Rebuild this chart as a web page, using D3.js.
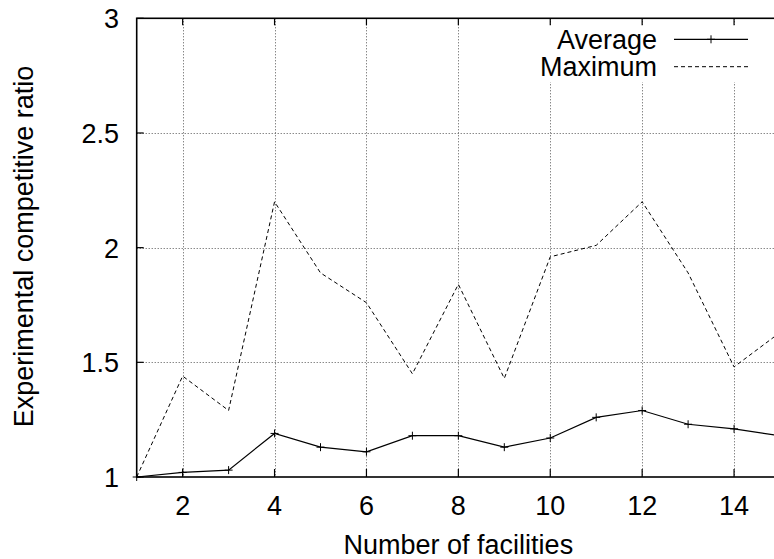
<!DOCTYPE html>
<html>
<head>
<meta charset="utf-8">
<script src="https://cdn.jsdelivr.net/npm/d3@7"></script>
<style>
  html, body { margin: 0; padding: 0; background: #fff; }
  svg { display: block; }
  text { font-family: "Liberation Sans", Arial, Helvetica, sans-serif; fill: #000; }
</style>
</head>
<body>
<svg id="chart" width="774" height="559"></svg>
<script>
// ---- data ----
const facilities = [1, 2, 3, 4, 5, 6, 7, 8, 9, 10, 11, 12, 13, 14, 15];
const averageRatio = [1.0, 1.02, 1.03, 1.19, 1.13, 1.11, 1.18, 1.18, 1.13, 1.17, 1.26, 1.29, 1.23, 1.21, 1.18];
const maximumRatio = [1.0, 1.44, 1.29, 2.2, 1.89, 1.76, 1.45, 1.84, 1.43, 1.96, 2.01, 2.2, 1.89, 1.48, 1.63];
const xTicks = [2, 4, 6, 8, 10, 12, 14];
const yTicks = [1, 1.5, 2, 2.5, 3];
const yTickLabels = ["1", "1.5", "2", "2.5", "3"];
const seriesNames = ["Average", "Maximum"];
const xTitle = "Number of facilities";
const yTitle = "Experimental competitive ratio";

// ---- layout ----
const plotL = 136.7, plotR = 780, plotT = 18.3, plotB = 477;
const fontSize = 27;

const svg = d3.select("#chart");
const x = d3.scaleLinear().domain([1, 15]).range([plotL, plotR]);
const y = d3.scaleLinear().domain([1, 3]).range([plotB, plotT]);

// grid
const grid = svg.append("g").attr("stroke", "#555").attr("stroke-width", 1).attr("stroke-dasharray", "1,2");
grid.selectAll("line.gx").data(xTicks).join("line")
  .attr("x1", d => Math.round(x(d)) + 0.5).attr("x2", d => Math.round(x(d)) + 0.5).attr("y1", plotT).attr("y2", plotB);
grid.selectAll("line.gy").data(yTicks.filter(d => d > 1 && d < 3)).join("line")
  .attr("x1", plotL).attr("x2", plotR).attr("y1", d => Math.round(y(d)) + 0.5).attr("y2", d => Math.round(y(d)) + 0.5);

// legend background (opaque key)
svg.append("rect").attr("x", 530).attr("y", 25).attr("width", 240).attr("height", 57).attr("fill", "#fff");

// tick marks
const ticks = svg.append("g").attr("stroke", "#000").attr("stroke-width", 1.2);
ticks.selectAll("line.tb").data(xTicks).join("line")
  .attr("x1", d => x(d)).attr("x2", d => x(d)).attr("y1", plotB).attr("y2", plotB - 8);
ticks.selectAll("line.tt").data(xTicks).join("line")
  .attr("x1", d => x(d)).attr("x2", d => x(d)).attr("y1", plotT).attr("y2", plotT + 7);
ticks.selectAll("line.tl").data(yTicks).join("line")
  .attr("x1", plotL).attr("x2", plotL + 7).attr("y1", d => y(d)).attr("y2", d => y(d));

// border
svg.append("rect").attr("x", plotL).attr("y", plotT).attr("width", plotR - plotL).attr("height", plotB - plotT)
  .attr("fill", "none").attr("stroke", "#000").attr("stroke-width", 1.6);

// tick labels
svg.append("g").selectAll("text").data(xTicks).join("text")
  .attr("x", d => x(d)).attr("y", 515).attr("text-anchor", "middle")
  .attr("font-size", fontSize).text(d => d);
svg.append("g").selectAll("text").data(yTicks).join("text")
  .attr("x", 119).attr("y", d => y(d) + 10).attr("text-anchor", "end")
  .attr("font-size", fontSize).text((d, i) => yTickLabels[i]);

// axis titles
svg.append("text").attr("x", (plotL + plotR) / 2).attr("y", 554).attr("text-anchor", "middle")
  .attr("font-size", fontSize).text(xTitle);
svg.append("text").attr("transform", `translate(33,246.5) rotate(-90)`).attr("text-anchor", "middle")
  .attr("font-size", fontSize).text(yTitle);

// series
const avgData = facilities.map((f, i) => [f, averageRatio[i]]);
const maxData = facilities.map((f, i) => [f, maximumRatio[i]]);
const line = d3.line().x(d => x(d[0])).y(d => y(d[1]));

svg.append("path").datum(maxData).attr("d", line).attr("fill", "none")
  .attr("stroke", "#000").attr("stroke-width", 1).attr("stroke-dasharray", "4,3");
svg.append("path").datum(avgData).attr("d", line).attr("fill", "none")
  .attr("stroke", "#000").attr("stroke-width", 1.2);

const cross = (g, cx, cy, s) => {
  g.append("line").attr("x1", cx - s).attr("x2", cx + s).attr("y1", cy).attr("y2", cy);
  g.append("line").attr("x1", cx).attr("x2", cx).attr("y1", cy - s).attr("y2", cy + s);
};
const marks = svg.append("g").attr("stroke", "#000").attr("stroke-width", 1);
avgData.forEach(d => cross(marks, x(d[0]), y(d[1]), 4));

// legend
const legY = [39.3, 66.7];
svg.append("g").selectAll("text").data(seriesNames).join("text")
  .attr("x", 657).attr("y", (d, i) => legY[i] + 9.5).attr("text-anchor", "end")
  .attr("font-size", fontSize).text(d => d);
svg.append("line").attr("x1", 674).attr("x2", 748).attr("y1", legY[0]).attr("y2", legY[0])
  .attr("stroke", "#000").attr("stroke-width", 1.2);
cross(svg.append("g").attr("stroke", "#000").attr("stroke-width", 1), 711, legY[0], 4);
svg.append("line").attr("x1", 674).attr("x2", 748).attr("y1", legY[1]).attr("y2", legY[1])
  .attr("stroke", "#000").attr("stroke-width", 1).attr("stroke-dasharray", "4,3");
</script>
</body>
</html>
